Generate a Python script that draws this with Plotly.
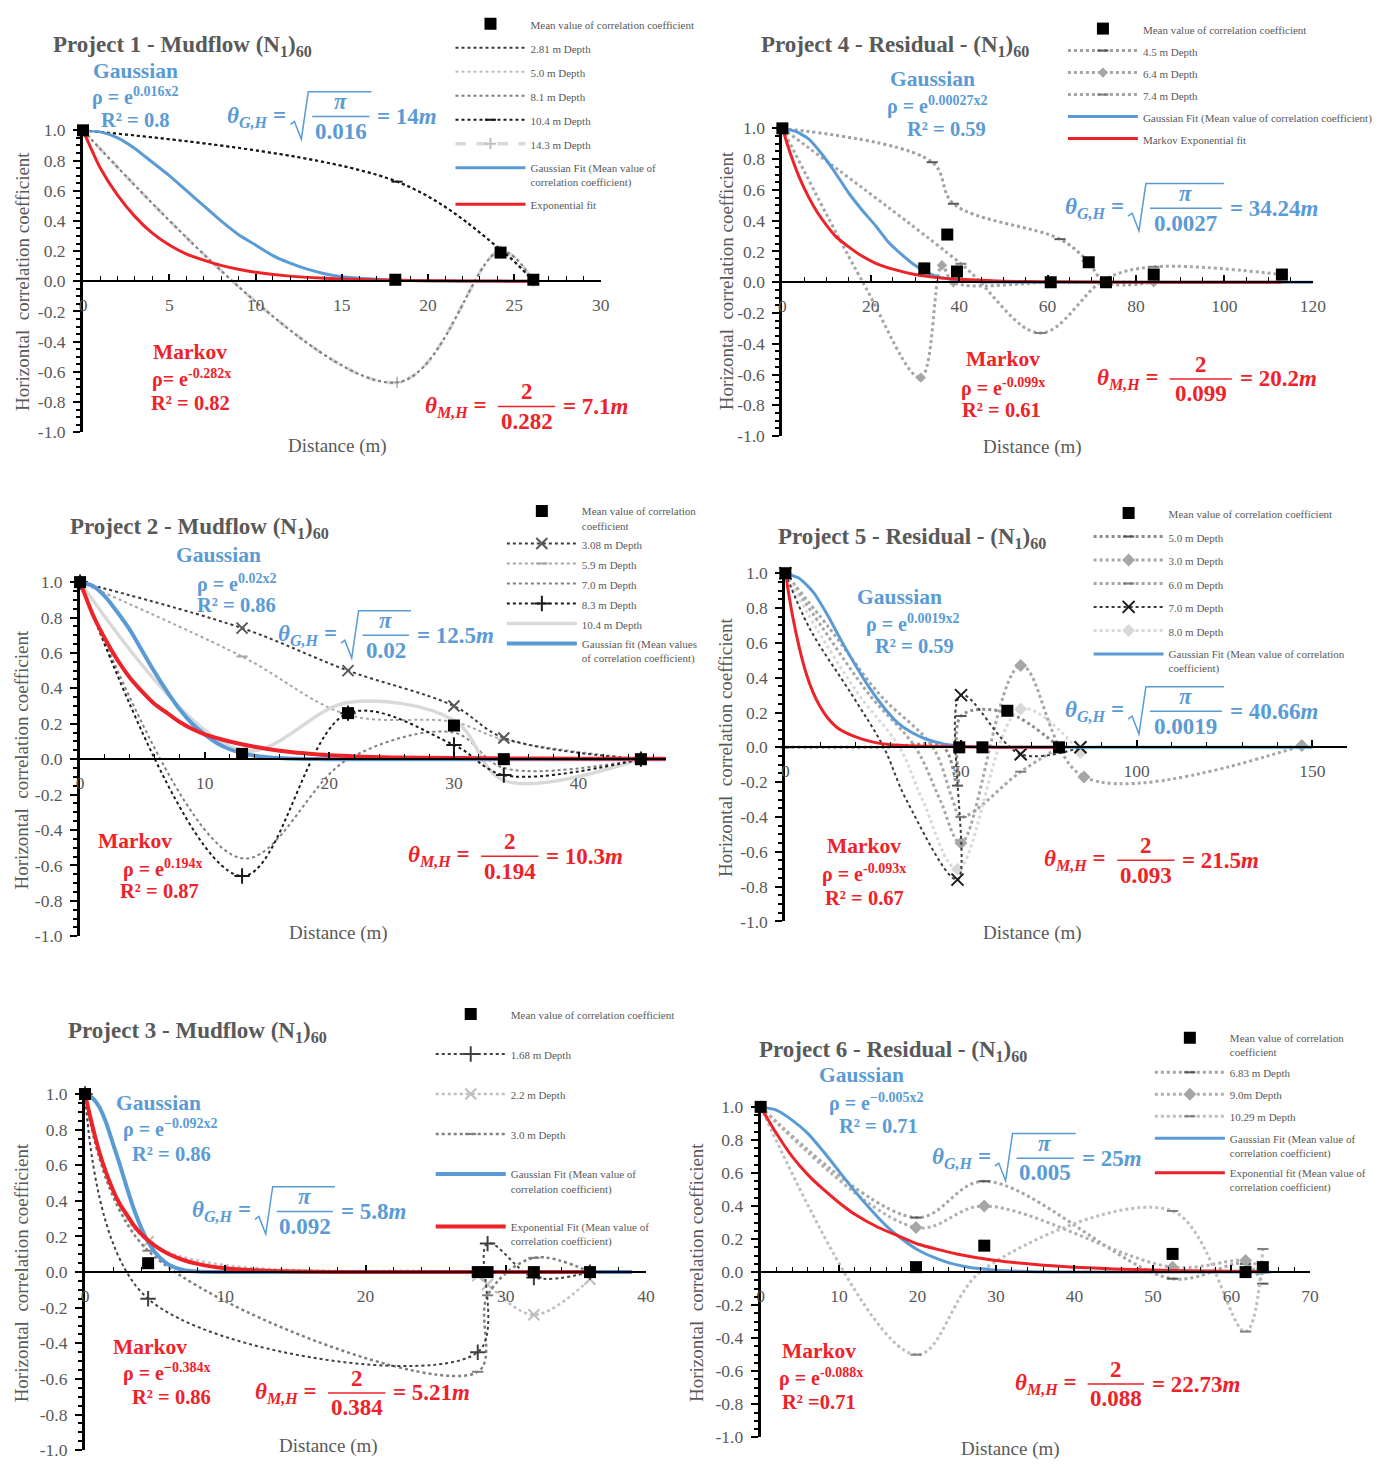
import plotly.graph_objects as go

W, H = 1394, 1470
BLUE = "#5B9BD5"
RED = "#EE2229"
TXT = "#595959"
FONT = "Liberation Serif"

Y_TICKS = [-1.0, -0.8, -0.6, -0.4, -0.2, 0.0, 0.2, 0.4, 0.6, 0.8, 1.0]
Y_TICK_LABELS = ["-1.0", "-0.8", "-0.6", "-0.4", "-0.2", "0.0", "0.2", "0.4", "0.6", "0.8", "1.0"]

# ---------------- Project 1 ----------------
P1_MEAN_X = [0, 18.1, 24.2, 26.1]
P1_MEAN_Y = [1.0, 0.01, 0.19, 0.01]
P1_D281_X = [0, 18.2, 24.2, 26.1]
P1_D281_Y = [1.0, 0.66, 0.21, 0.0]
P1_D50_X = [0, 18.2, 24.2, 26.1]
P1_D50_Y = [1.0, -0.67, 0.2, 0.0]
P1_D81_X = [0, 18.2, 24.2, 26.1]
P1_D81_Y = [1.0, -0.67, 0.2, 0.0]
P1_D104_X = [0, 18.2, 24.2, 26.1]
P1_D104_Y = [1.0, 0.66, 0.21, 0.0]
P1_D143_X = [0, 18.2, 24.2, 26.1]
P1_D143_Y = [1.0, -0.67, 0.2, 0.0]
P1_GAUSS_X = [0, 1, 2, 3, 4, 5, 6, 7, 8, 9, 10, 11, 12, 13, 14, 15, 16, 18, 20, 22, 24, 26]
P1_GAUSS_Y = [1.0, 0.99, 0.95, 0.88, 0.79, 0.70, 0.60, 0.50, 0.40, 0.31, 0.24, 0.17, 0.12, 0.08,
              0.05, 0.03, 0.02, 0.008, 0.003, 0.001, 0.0, 0.0]
P1_EXP_X = [0, 1, 2, 3, 4, 5, 6, 7, 8, 9, 10, 12, 14, 16, 18, 20, 22, 24, 26]
P1_EXP_Y = [1.0, 0.75, 0.57, 0.43, 0.32, 0.24, 0.18, 0.14, 0.105, 0.08, 0.06, 0.034, 0.02, 0.011,
            0.006, 0.004, 0.002, 0.001, 0.0]

# ---------------- Project 4 ----------------
P4_MEAN_X = [0, 32.1, 37.3, 39.5, 60.7, 69.3, 73.2, 84, 113]
P4_MEAN_Y = [1.0, 0.09, 0.31, 0.07, 0.0, 0.13, 0.0, 0.05, 0.05]
P4_D45_X = [0, 33.9, 38.7, 62.8, 69, 73, 84]
P4_D45_Y = [1.0, 0.78, 0.51, 0.28, 0.14, 0.0, 0.0]
P4_D45_MK = [1, 1, 1, 1, 1, 0, 0]
P4_D64_X = [0, 18.4, 31.3, 36.1, 38.7, 61, 73, 84]
P4_D64_Y = [1.0, -0.01, -0.62, 0.11, 0.0, 0.0, 0.0, 0.0]
P4_D64_MK = [1, 0, 1, 1, 1, 0, 0, 1]
P4_D74_X = [0, 40.4, 58.4, 73, 84, 113]
P4_D74_Y = [1.0, 0.12, -0.33, 0.02, 0.1, 0.05]
P4_D74_MK = [1, 1, 1, 0, 1, 1]
P4_GAUSS_X = [0, 3, 6, 9, 12, 15, 18, 21, 24, 27, 30, 33, 36, 40, 45, 50, 60, 80, 100, 120]
P4_GAUSS_Y = [1.0, 0.98, 0.93, 0.83, 0.71, 0.58, 0.47, 0.37, 0.26, 0.18, 0.11, 0.06, 0.03, 0.012,
              0.004, 0.001, 0.0, 0.0, 0.0, 0.0]
P4_EXP_X = [0, 2, 4, 6, 8, 10, 12, 15, 18, 21, 25, 30, 35, 40, 50, 60, 80, 100, 113]
P4_EXP_Y = [1.0, 0.82, 0.67, 0.55, 0.45, 0.37, 0.30, 0.23, 0.17, 0.125, 0.085, 0.05, 0.03, 0.019,
            0.007, 0.003, 0.0, 0.0, 0.0]

# ---------------- Project 2 ----------------
P2_MEAN_X = [0, 13, 21.5, 30, 34, 45]
P2_MEAN_Y = [1.0, 0.03, 0.26, 0.19, 0.0, 0.0]
P2_D308_X = [0, 13, 21.5, 30, 34, 45]
P2_D308_Y = [1.0, 0.74, 0.5, 0.3, 0.12, 0.0]
P2_D59_X = [0, 13, 21.5, 30, 34, 45]
P2_D59_Y = [1.0, 0.58, 0.25, 0.21, 0.11, 0.0]
P2_D70_X = [0, 13, 21.5, 30, 34, 45]
P2_D70_Y = [1.0, -0.56, 0.0, 0.15, -0.05, 0.0]
P2_D83_X = [0, 13, 21.5, 30, 34, 45]
P2_D83_Y = [1.0, -0.66, 0.26, 0.08, -0.09, 0.0]
P2_D104_X = [0, 13, 21.5, 30, 34, 45]
P2_D104_Y = [1.0, 0.05, 0.32, 0.22, -0.12, 0.0]
P2_GAUSS_X = [0, 1, 2, 3, 4, 5, 6, 7, 8, 9, 10, 11, 12, 13, 14, 16, 18, 20, 25, 30, 40, 47]
P2_GAUSS_Y = [1.0, 0.98, 0.92, 0.83, 0.73, 0.61, 0.49, 0.38, 0.28, 0.20, 0.14, 0.09, 0.056, 0.034,
              0.02, 0.006, 0.0015, 0.0, 0.0, 0.0, 0.0, 0.0]
P2_EXP_X = [0, 1, 2, 3, 4, 5, 6, 7, 8, 9, 10, 12, 14, 16, 18, 20, 25, 30, 35, 40, 47]
P2_EXP_Y = [1.0, 0.82, 0.68, 0.56, 0.46, 0.38, 0.31, 0.26, 0.21, 0.17, 0.14, 0.10, 0.07, 0.048,
            0.033, 0.022, 0.01, 0.006, 0.004, 0.003, 0.002]

# ---------------- Project 5 ----------------
P5_MEAN_X = [0, 49.5, 56.1, 63.2, 77.9]
P5_MEAN_Y = [1.0, 0.0, 0.0, 0.21, 0.0]
P5_D50_X = [0, 28, 45, 49, 50, 63, 78]
P5_D50_Y = [0.0, 0.0, 0.0, -0.22, 0.18, 0.2, 0.0]
P5_D50_MK = [1, 0, 0, 1, 1, 1, 1]
P5_D30_X = [0, 10.8, 24, 37, 44, 50, 67, 85, 147]
P5_D30_Y = [1.0, 0.68, 0.3, 0.0, -0.3, -0.55, 0.47, -0.17, 0.01]
P5_D30_MK = [1, 0, 0, 0, 0, 1, 1, 1, 1]
P5_D60_X = [0, 12.7, 27, 42, 47.6, 50, 67, 78]
P5_D60_Y = [1.0, 0.68, 0.3, 0.0, -0.3, -0.4, -0.14, 0.0]
P5_D60_MK = [1, 0, 0, 0, 0, 1, 1, 1]
P5_D70_X = [0, 7, 19, 28, 34.4, 49, 50, 67, 84]
P5_D70_Y = [1.0, 0.68, 0.3, 0.0, -0.3, -0.76, 0.3, -0.04, 0.0]
P5_D70_MK = [1, 0, 0, 0, 0, 1, 1, 1, 1]
P5_D80_X = [0, 9, 21, 32.5, 39, 49, 67, 84]
P5_D80_Y = [1.0, 0.68, 0.3, 0.0, -0.3, -0.7, 0.22, -0.03]
P5_D80_MK = [1, 0, 0, 0, 0, 1, 1, 1]
P5_GAUSS_X = [0, 4, 8, 12, 16, 20, 24, 28, 32, 36, 40, 45, 50, 55, 60, 70, 80, 100, 150]
P5_GAUSS_Y = [1.0, 0.97, 0.89, 0.76, 0.61, 0.47, 0.34, 0.23, 0.14, 0.085, 0.048, 0.02, 0.008,
              0.003, 0.001, 0.0, 0.0, 0.0, 0.0]
P5_EXP_X = [0, 2, 4, 6, 8, 10, 12, 15, 20, 25, 30, 40, 50, 60, 78]
P5_EXP_Y = [1.0, 0.76, 0.57, 0.42, 0.31, 0.23, 0.17, 0.11, 0.06, 0.03, 0.015, 0.006, 0.003,
            0.001, 0.0]

# ---------------- Project 3 ----------------
P3_MEAN_X = [0, 4.5, 28, 28.7, 32, 36]
P3_MEAN_Y = [1.0, 0.05, 0.0, 0.0, 0.0, 0.0]
P3_D168_X = [0, 4.5, 28, 28.7, 32, 36]
P3_D168_Y = [1.0, -0.15, -0.45, 0.16, -0.03, 0.0]
P3_D22_X = [0, 4.5, 28, 28.7, 32, 36]
P3_D22_Y = [1.0, 0.17, -0.02, -0.07, -0.24, -0.04]
P3_D30_X = [0, 4.5, 28, 28.7, 32, 36]
P3_D30_Y = [1.0, 0.12, -0.56, -0.13, 0.08, 0.0]
P3_GAUSS_X = [0, 0.5, 1, 1.5, 2, 2.5, 3, 3.5, 4, 4.5, 5, 5.5, 6, 7, 8, 10, 15, 20, 30, 39]
P3_GAUSS_Y = [1.0, 0.98, 0.93, 0.84, 0.72, 0.60, 0.47, 0.35, 0.25, 0.17, 0.11, 0.07, 0.04, 0.012,
              0.003, 0.0, 0.0, 0.0, 0.0, 0.0]
P3_EXP_X = [0, 0.5, 1, 1.5, 2, 2.5, 3, 3.5, 4, 5, 6, 7, 8, 10, 12, 15, 20, 25, 30, 36]
P3_EXP_Y = [1.0, 0.83, 0.68, 0.56, 0.46, 0.38, 0.32, 0.26, 0.215, 0.147, 0.10, 0.068, 0.046,
            0.021, 0.01, 0.003, 0.0, 0.0, 0.0, 0.0]

# ---------------- Project 6 ----------------
P6_MEAN_X = [0, 19.8, 28.5, 52.5, 61.8, 64]
P6_MEAN_Y = [1.0, 0.03, 0.16, 0.11, 0.0, 0.03]
P6_D683_X = [0, 19.8, 28.5, 52.5, 61.8, 64]
P6_D683_Y = [1.0, 0.33, 0.55, -0.04, 0.05, -0.07]
P6_D90_X = [0, 19.8, 28.5, 52.5, 61.8, 64]
P6_D90_Y = [1.0, 0.27, 0.4, 0.03, 0.07, 0.02]
P6_D1029_X = [0, 19.8, 28.5, 52.5, 61.8, 64]
P6_D1029_Y = [1.0, -0.5, 0.02, 0.37, -0.36, 0.14]
P6_GAUSS_X = [0, 2, 4, 6, 8, 10, 12, 14, 16, 18, 20, 22, 24, 26, 28, 30, 35, 40, 50, 65]
P6_GAUSS_Y = [1.0, 0.98, 0.92, 0.84, 0.73, 0.61, 0.49, 0.38, 0.28, 0.20, 0.135, 0.09, 0.056,
              0.034, 0.02, 0.011, 0.002, 0.0, 0.0, 0.0]
P6_EXP_X = [0, 2, 4, 6, 8, 10, 12, 15, 18, 20, 25, 30, 35, 40, 45, 50, 55, 60, 64]
P6_EXP_Y = [1.0, 0.84, 0.70, 0.59, 0.50, 0.42, 0.35, 0.27, 0.21, 0.17, 0.11, 0.07, 0.046, 0.03,
            0.019, 0.012, 0.008, 0.005, 0.004]

MEAN_NAME = "Mean value of correlation coefficient"
MEAN_NAME_2L = "Mean value of correlation<br>coefficient"


def px(v):
    return v / W


def py(v):
    return 1 - v / H


fig = go.Figure()


def _ax(n):
    return "" if n == 1 else str(n)


def depth(n, x, y, name, color, dash="dot", width=2, symbol=None, mcolor=None, msize=8, rank=2, mk=None):
    ax = _ax(n)
    line = dict(color=color, dash=dash, width=width, shape="spline", smoothing=1.0)
    common = dict(xaxis="x" + ax, yaxis="y" + ax, legend="legend" + ax, legendrank=rank,
                  legendgroup="g%d_%d" % (n, rank), cliponaxis=False, hoverinfo="skip")
    marker = dict(size=1, color=color)
    mode = "lines"
    if symbol is not None:
        mode = "lines+markers"
        mc = mcolor or color
        if symbol in ("line-ew", "x-thin", "cross-thin"):
            marker = dict(symbol=symbol, size=msize, color=mc, line=dict(color=mc, width=2))
        else:
            marker = dict(symbol=symbol, size=msize, color=mc, line=dict(width=0))
    if mk is None:
        fig.add_trace(go.Scatter(x=x, y=y, mode=mode, name=name, line=line, marker=marker, **common))
        return
    # curve through all read points, markers only on the measured points
    fig.add_trace(go.Scatter(x=x, y=y, mode="lines", name=name, line=line, showlegend=False, **common))
    fig.add_trace(go.Scatter(x=[a for a, f in zip(x, mk) if f], y=[b for b, f in zip(y, mk) if f],
                             mode="markers", name=name, marker=marker, showlegend=False, **common))
    fig.add_trace(go.Scatter(x=[None], y=[None], mode=mode, name=name, line=line, marker=marker, **common))


def fit(n, x, y, name, color, width=3, show=True, rank=50):
    ax = _ax(n)
    fig.add_trace(go.Scatter(
        x=x, y=y, mode="lines", name=name, xaxis="x" + ax, yaxis="y" + ax,
        line=dict(color=color, width=width, shape="spline", smoothing=0.6),
        legend="legend" + ax, legendrank=rank, legendgroup="g%d_%d" % (n, rank),
        showlegend=show, cliponaxis=False, hoverinfo="skip"))


def mean(n, x, y, name):
    ax = _ax(n)
    fig.add_trace(go.Scatter(
        x=x, y=y, mode="markers", name=name, xaxis="x" + ax, yaxis="y" + ax,
        marker=dict(symbol="square", size=12, color="black"),
        legend="legend" + ax, legendrank=1, legendgroup="g%d_1" % n,
        cliponaxis=False, hoverinfo="skip"))


DK = "#3A3A3A"
BK = "#1A1A1A"
LG = "#BFBFBF"
VLG = "#D9D9D9"

# Panel 1
depth(1, P1_D50_X, P1_D50_Y, "5.0 m Depth", LG, rank=3)
depth(1, P1_D143_X, P1_D143_Y, "14.3 m Depth", VLG, dash="dash", width=3.5, symbol="cross-thin",
      mcolor=LG, rank=6)
depth(1, P1_D81_X, P1_D81_Y, "8.1 m Depth", "#7F7F7F", rank=4)
depth(1, P1_D281_X, P1_D281_Y, "2.81 m Depth", DK, rank=2)
depth(1, P1_D104_X, P1_D104_Y, "10.4 m Depth", BK, symbol="line-ew", rank=5)
fit(1, P1_GAUSS_X, P1_GAUSS_Y, "Gaussian Fit (Mean value of<br>correlation coefficient)", BLUE, rank=7)
fit(1, P1_EXP_X, P1_EXP_Y, "Exponential fit", RED, rank=8)
mean(1, P1_MEAN_X, P1_MEAN_Y, MEAN_NAME)

# Panel 4 (axis 2)
depth(2, P4_D45_X, P4_D45_Y, "4.5 m Depth", "#A0A0A0", width=3, symbol="line-ew", mcolor="#595959",
      rank=2, mk=P4_D45_MK)
depth(2, P4_D64_X, P4_D64_Y, "6.4 m Depth", "#A6A6A6", width=3, symbol="diamond", mcolor="#A6A6A6",
      rank=3, mk=P4_D64_MK)
depth(2, P4_D74_X, P4_D74_Y, "7.4 m Depth", "#A6A6A6", width=3, symbol="line-ew", mcolor="#7F7F7F",
      rank=4, mk=P4_D74_MK)
fit(2, P4_GAUSS_X, P4_GAUSS_Y, "Gaussian Fit (Mean value of correlation coefficient)", BLUE, rank=5)
fit(2, P4_EXP_X, P4_EXP_Y, "Markov Exponential fit", RED, rank=6)
mean(2, P4_MEAN_X, P4_MEAN_Y, MEAN_NAME)

# Panel 2 (axis 3)
depth(3, P2_D59_X, P2_D59_Y, "5.9 m Depth", "#A6A6A6", symbol="line-ew", mcolor="#A6A6A6", rank=3)
depth(3, P2_D70_X, P2_D70_Y, "7.0 m Depth", "#7F7F7F", rank=4)
depth(3, P2_D104_X, P2_D104_Y, "10.4 m Depth", VLG, dash="solid", width=3.5, rank=6)
depth(3, P2_D308_X, P2_D308_Y, "3.08 m Depth", DK, symbol="x-thin", mcolor="#595959", msize=11, rank=2)
depth(3, P2_D83_X, P2_D83_Y, "8.3 m Depth", BK, symbol="cross-thin", msize=11, rank=5)
fit(3, P2_GAUSS_X, P2_GAUSS_Y, "Gaussian fit (Mean values<br>of correlation coefficient)", BLUE, width=4, rank=7)
fit(3, P2_EXP_X, P2_EXP_Y, "Exponential fit", RED, width=4, show=False)
mean(3, P2_MEAN_X, P2_MEAN_Y, MEAN_NAME_2L)

# Panel 5 (axis 4)
depth(4, P5_D50_X, P5_D50_Y, "5.0 m Depth", "#8C8C8C", width=3, symbol="line-ew", mcolor="#595959",
      rank=2, mk=P5_D50_MK)
depth(4, P5_D30_X, P5_D30_Y, "3.0 m Depth", "#A6A6A6", width=3, symbol="diamond", mcolor="#A6A6A6",
      msize=10, rank=3, mk=P5_D30_MK)
depth(4, P5_D60_X, P5_D60_Y, "6.0 m Depth", "#A6A6A6", width=3, symbol="line-ew", mcolor="#7F7F7F",
      rank=4, mk=P5_D60_MK)
depth(4, P5_D80_X, P5_D80_Y, "8.0 m Depth", VLG, width=3, symbol="diamond", mcolor=VLG, msize=10,
      rank=6, mk=P5_D80_MK)
depth(4, P5_D70_X, P5_D70_Y, "7.0 m Depth", DK, width=2, symbol="x-thin", mcolor=BK, msize=12,
      rank=5, mk=P5_D70_MK)
fit(4, P5_GAUSS_X, P5_GAUSS_Y, "Gaussian Fit (Mean value of correlation<br>coefficient)", BLUE, rank=7)
fit(4, P5_EXP_X, P5_EXP_Y, "Exponential fit", RED, show=False)
mean(4, P5_MEAN_X, P5_MEAN_Y, MEAN_NAME)

# Panel 3 (axis 5)
depth(5, P3_D22_X, P3_D22_Y, "2.2 m Depth", LG, width=2.5, symbol="x-thin", mcolor=LG, msize=11, rank=3)
depth(5, P3_D30_X, P3_D30_Y, "3.0 m Depth", "#7F7F7F", width=2.5, symbol="line-ew", mcolor="#7F7F7F", rank=4)
depth(5, P3_D168_X, P3_D168_Y, "1.68 m Depth", "#404040", width=2, symbol="cross-thin", mcolor="#404040",
      msize=11, rank=2)
fit(5, P3_GAUSS_X, P3_GAUSS_Y, "Gaussian Fit (Mean value of<br>correlation coefficient)", BLUE, width=4, rank=5)
fit(5, P3_EXP_X, P3_EXP_Y, "Exponential Fit (Mean value of<br>correlation coefficient)", RED, width=4, rank=6)
mean(5, P3_MEAN_X, P3_MEAN_Y, MEAN_NAME)

# Panel 6 (axis 6)
depth(6, P6_D683_X, P6_D683_Y, "6.83 m Depth", "#A6A6A6", width=3, symbol="line-ew", mcolor="#595959", rank=2)
depth(6, P6_D90_X, P6_D90_Y, "9.0m Depth", "#B0B0B0", width=3, symbol="diamond", mcolor="#A6A6A6",
      msize=10, rank=3)
depth(6, P6_D1029_X, P6_D1029_Y, "10.29 m Depth", "#BFBFBF", width=3, symbol="line-ew", mcolor="#7F7F7F", rank=4)
fit(6, P6_GAUSS_X, P6_GAUSS_Y, "Gaussian Fit (Mean value of<br>correlation coefficient)", BLUE, rank=5)
fit(6, P6_EXP_X, P6_EXP_Y, "Exponential fit (Mean value of<br>correlation coefficient)", RED, rank=6)
mean(6, P6_MEAN_X, P6_MEAN_Y, MEAN_NAME_2L)

# ---- panel geometry (pixels) ----
GEOM = {
    1: dict(x0=80, x1=604, xmax=30, yt=122, yb=428, dt=5, mn=1),
    2: dict(x0=788, x1=1325, xmax=120, yt=120, yb=432, dt=20, mn=5),
    3: dict(x0=77, x1=670, xmax=47, yt=580, yb=939, dt=10, mn=2),
    4: dict(x0=791, x1=1360, xmax=160, yt=571, yb=924, dt=50, mn=10),
    5: dict(x0=82, x1=650, xmax=40, yt=1099, yb=1460, dt=10, mn=2),
    6: dict(x0=766, x1=1322, xmax=70, yt=1112, yb=1447, dt=10, mn=2),
}

layout = dict(
    width=W, height=H, margin=dict(l=0, r=0, t=0, b=0),
    paper_bgcolor="white", plot_bgcolor="white", showlegend=True,
    font=dict(family=FONT, color=TXT),
)
tickfont = dict(family=FONT, size=17.5, color=TXT)
for n, g in GEOM.items():
    ax = _ax(n)
    y0pix = (g["yt"] + g["yb"]) / 2
    layout["xaxis" + ax] = dict(
        domain=[px(g["x0"]), px(g["x1"])], range=[0, g["xmax"]], anchor="free",
        position=py(y0pix), showline=True, linecolor="black", linewidth=2,
        ticks="inside", ticklen=6, tickwidth=1.5, tickcolor="black", tick0=0, dtick=g["dt"],
        minor=dict(dtick=g["mn"], tick0=0, ticks="inside", ticklen=4, tickwidth=1.2, tickcolor="black"),
        showgrid=False, zeroline=False, tickfont=tickfont, ticklabelstandoff=8, fixedrange=True)
    layout["yaxis" + ax] = dict(
        domain=[py(g["yb"]), py(g["yt"])], range=[-1, 1], anchor="x" + ax,
        showline=True, linecolor="black", linewidth=3, ticks="outside", ticklen=7,
        tickwidth=2, tickcolor="black", tickmode="array", tickvals=Y_TICKS, ticktext=Y_TICK_LABELS,
        minor=dict(dtick=0.05, tick0=0, ticks="outside", ticklen=4, tickwidth=1.5, tickcolor="black"),
        showgrid=False, zeroline=False, tickfont=tickfont, ticklabelstandoff=4, fixedrange=True)

# legend: (left px, top px, gap between items)
LEG = {1: (452, 0, 5), 2: (1072, 5, 3), 3: (504, 494, 1), 4: (1098, 496, 4.5),
       5: (432, 1004, 21), 6: (1160, 1028, 3)}
for n, (lx, ly, gap) in LEG.items():
    key = "legend" if n == 1 else "legend" + str(n)
    layout[key] = dict(x=px(lx), y=py(ly), xanchor="left", yanchor="top", bgcolor="rgba(0,0,0,0)",
                       font=dict(family=FONT, size=11, color=TXT), itemwidth=70, valign="top",
                       traceorder="grouped", tracegroupgap=gap)

anns = []
shapes = []


def text(x, y, s, size, color, xa="center", bold=True):
    anns.append(dict(x=px(x), y=py(y), xref="paper", yref="paper", text=("<b>%s</b>" % s) if bold else s,
                     showarrow=False, xanchor=xa, yanchor="middle",
                     font=dict(family=FONT, size=size, color=color)))


def formula(x0, x1, by, left, num, den, right, color, sqrt):
    text(x0 - (24 if sqrt else 9), by, left, 23, color, xa="right")
    text((x0 + x1) / 2, by - 15, num, 23, color)
    text((x0 + x1) / 2, by + 15, den, 23, color)
    text(x1 + 6, by, right, 23, color, xa="left")
    shapes.append(dict(type="line", xref="paper", yref="paper", x0=px(x0), x1=px(x1), y0=py(by), y1=py(by),
                       line=dict(color=color, width=1.5)))
    if sqrt:
        pts = [(x0 - 22, by + 8), (x0 - 18, by + 5), (x0 - 11, by + 23), (x0 - 4, by - 25), (x1 + 2, by - 25)]
        path = "M " + " L ".join("%.5f,%.5f" % (px(a), py(b)) for a, b in pts)
        shapes.append(dict(type="path", xref="paper", yref="paper", path=path,
                           line=dict(color=color, width=1.5)))


TG = "<i>θ</i><sub><i>G,H</i></sub> ="
TM = "<i>θ</i><sub><i>M,H</i></sub> ="

TITLES = [
    (48, 36, "Project 1 - Mudflow (N<sub>1</sub>)<sub>60</sub>"),
    (764, 36, "Project 4 - Residual - (N<sub>1</sub>)<sub>60</sub>"),
    (65, 525, "Project 2 - Mudflow (N<sub>1</sub>)<sub>60</sub>"),
    (782, 535, "Project 5 - Residual - (N<sub>1</sub>)<sub>60</sub>"),
    (63, 1036, "Project 3 - Mudflow (N<sub>1</sub>)<sub>60</sub>"),
    (762, 1055, "Project 6 - Residual - (N<sub>1</sub>)<sub>60</sub>"),
]
for x, y, s in TITLES:
    text(x, y, s, 23, TXT, xa="left")

GAUSS_TXT = [
    ((133, 62), (133, 88), (133, 112), "ρ = e<sup>0.016x2</sup>", "R² = 0.8"),
    ((940, 70), (945, 97), (954, 121), "ρ = e<sup>0.00027x2</sup>", "R² = 0.59"),
    ((217, 553), (235, 581), (235, 603), "ρ = e<sup>0.02x2</sup>", "R² = 0.86"),
    ((907, 595), (920, 622), (922, 645), "ρ = e<sup>0.0019x2</sup>", "R² = 0.59"),
    ((156, 1108), (168, 1134), (170, 1160), "ρ = e<sup>−0.092x2</sup>", "R² = 0.86"),
    ((868, 1080), (883, 1108), (885, 1131), "ρ = e<sup>−0.005x2</sup>", "R² = 0.71"),
]
for a, b, c, rho, r2 in GAUSS_TXT:
    text(a[0], a[1], "Gaussian", 21.5, BLUE)
    text(b[0], b[1], rho, 20, BLUE)
    text(c[0], c[1], r2, 20.5, BLUE)

MARKOV_TXT = [
    ((188, 347), (190, 374), (189, 398), "ρ= e<sup>-0.282x</sup>", "R² = 0.82"),
    ((1011, 354), (1011, 383), (1010, 406), "ρ = e<sup>-0.099x</sup>", "R² = 0.61"),
    ((133, 842), (160, 870), (157, 893), "ρ = e<sup>0.194x</sup>", "R² = 0.87"),
    ((871, 848), (871, 875), (871, 900), "ρ = e<sup>-0.093x</sup>", "R² = 0.67"),
    ((148, 1355), (164, 1381), (170, 1406), "ρ = e<sup>−0.384x</sup>", "R² = 0.86"),
    ((825, 1359), (827, 1386), (825, 1411), "ρ = e<sup>-0.088x</sup>", "R² =0.71"),
]
for a, b, c, rho, r2 in MARKOV_TXT:
    text(a[0], a[1], "Markov", 21.5, RED)
    text(b[0], b[1], rho, 20, RED)
    text(c[0], c[1], r2, 20.5, RED)

G_FORM = [
    (312, 370, 108, "0.016", "= 14<i>m</i>"),
    (1160, 1233, 201, "0.0027", "= 34.24<i>m</i>"),
    (363, 410, 634, "0.02", "= 12.5<i>m</i>"),
    (1160, 1233, 711, "0.0019", "= 40.66<i>m</i>"),
    (276, 333, 1218, "0.092", "= 5.8<i>m</i>"),
    (1025, 1083, 1164, "0.005", "= 25<i>m</i>"),
]
for x0, x1, by, den, right in G_FORM:
    formula(x0, x1, by, TG, "<i>π</i>", den, right, BLUE, True)

M_FORM = [
    (500, 558, 402, "0.282", "= 7.1<i>m</i>"),
    (1180, 1243, 374, "0.099", "= 20.2<i>m</i>"),
    (483, 541, 858, "0.194", "= 10.3<i>m</i>"),
    (1127, 1185, 862, "0.093", "= 21.5<i>m</i>"),
    (328, 386, 1402, "0.384", "= 5.21<i>m</i>"),
    (1097, 1154, 1393, "0.088", "= 22.73<i>m</i>"),
]
for x0, x1, by, den, right in M_FORM:
    formula(x0, x1, by, TM, "2", den, right, RED, False)

YTITLE = [(18, 275), (731, 275), (18, 760), (731, 748), (18, 1280), (701, 1280)]
for x, y in YTITLE:
    anns.append(dict(x=px(x), y=py(y), xref="paper", yref="paper", text="Horizontal  correlation coefficient",
                     showarrow=False, textangle=-90, xanchor="center", yanchor="middle",
                     font=dict(family=FONT, size=19, color=TXT)))

XTITLE = [(338, 442), (1041, 443), (339, 936), (1041, 936), (328, 1456), (1019, 1459)]
for x, y in XTITLE:
    text(x, y, "Distance (m)", 19, TXT, bold=False)

layout["annotations"] = anns
layout["shapes"] = shapes
fig.update_layout(**layout)
fig.write_html("out.html")
